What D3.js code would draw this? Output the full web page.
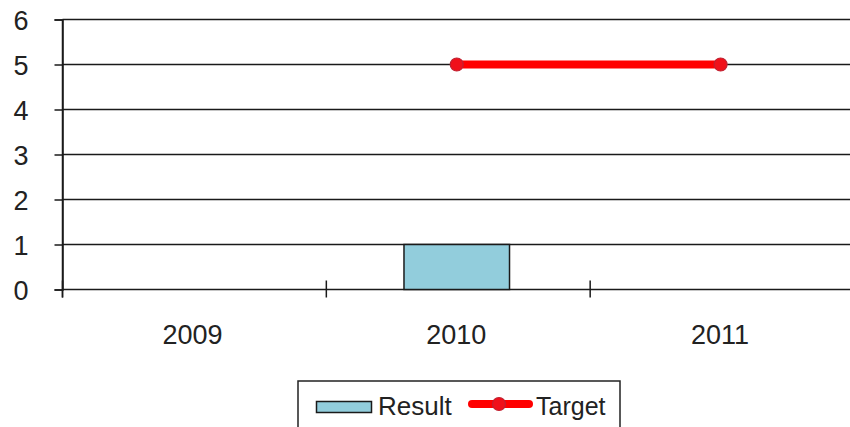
<!DOCTYPE html>
<html>
<head>
<meta charset="utf-8">
<script src="https://cdn.jsdelivr.net/npm/d3@7"></script>
<style>
  html, body { margin: 0; padding: 0; background: #fff; }
  svg { display: block; }
  text { font-family: "Liberation Sans", Arial, sans-serif; fill: #222; }
</style>
</head>
<body>
<svg id="chart" width="850" height="427"></svg>
<script>
const categories = ["2009", "2010", "2011"];
const resultValues = [null, 1, null];
const targetValues = [null, 5, 5];
const yTicks = [0, 1, 2, 3, 4, 5, 6];
const seriesNames = ["Result", "Target"];

const svg = d3.select("#chart");
const mLeft = 62.5, mRight = 854, mTop = 19.5, mBottom = 289.5;

const x = d3.scaleBand().domain(categories).range([mLeft, mRight]).padding(0);
const y = d3.scaleLinear().domain([0, 6]).range([mBottom, mTop]);

// gridlines
svg.append("g").selectAll("line").data(yTicks).join("line")
  .attr("x1", mLeft).attr("x2", 850)
  .attr("y1", d => y(d)).attr("y2", d => y(d))
  .attr("stroke", "#1a1a1a").attr("stroke-width", 1.5);

// y axis
const yAxis = svg.append("g").attr("transform", `translate(${mLeft},0)`)
  .call(d3.axisLeft(y).tickValues(yTicks).tickSize(8).tickPadding(26).tickFormat(d3.format("d")));
yAxis.select(".domain").attr("stroke", "#1a1a1a").attr("stroke-width", 1.5);
yAxis.selectAll(".tick line").attr("stroke", "#1a1a1a").attr("stroke-width", 1.5);
yAxis.selectAll(".tick text").attr("font-size", 27).attr("font-family", "Liberation Sans, Arial, sans-serif")
  .attr("fill", "#222").attr("dy", "0.36em");

// x axis ticks at band boundaries
const boundaries = categories.map(c => x(c)).concat([x(categories[categories.length - 1]) + x.bandwidth()]);
svg.append("g").selectAll("line").data(boundaries).join("line")
  .attr("x1", d => d).attr("x2", d => d)
  .attr("y1", mBottom - 9).attr("y2", mBottom + 8)
  .attr("stroke", "#1a1a1a").attr("stroke-width", 1.5);
svg.append("line").attr("x1", mLeft).attr("x2", mLeft).attr("y1", mTop).attr("y2", mBottom + 8)
  .attr("stroke", "#1a1a1a").attr("stroke-width", 1.5);

svg.append("g").selectAll("text").data(categories).join("text")
  .attr("x", d => x(d) + x.bandwidth() / 2 - 2)
  .attr("y", 344)
  .attr("text-anchor", "middle")
  .attr("font-size", 27)
  .text(d => d);

// bars
const barW = x.bandwidth() * 0.4;
svg.append("g").selectAll("rect")
  .data(categories.map((c, i) => ({ c, v: resultValues[i] })).filter(d => d.v != null))
  .join("rect")
  .attr("x", d => x(d.c) + x.bandwidth() / 2 - barW / 2 - 1.5)
  .attr("y", d => y(d.v))
  .attr("width", barW)
  .attr("height", d => y(0) - y(d.v))
  .attr("fill", "#92CDDC")
  .attr("stroke", "#1a1a1a")
  .attr("stroke-width", 1.5);

// target line
const tData = categories.map((c, i) => ({ c, v: targetValues[i] })).filter(d => d.v != null);
svg.append("path").datum(tData)
  .attr("fill", "none")
  .attr("stroke", "#FF0000")
  .attr("stroke-width", 8)
  .attr("d", d3.line().x(d => x(d.c) + x.bandwidth() / 2 - 1.5).y(d => y(d.v)));
svg.append("g").selectAll("circle").data(tData).join("circle")
  .attr("cx", d => x(d.c) + x.bandwidth() / 2 - 1.5)
  .attr("cy", d => y(d.v))
  .attr("r", 6.5)
  .attr("fill", "#F0101A")
  .attr("stroke", "#C02030")
  .attr("stroke-width", 1.2);

// legend
const lg = svg.append("g");
lg.append("rect").attr("x", 298).attr("y", 381).attr("width", 322).attr("height", 60)
  .attr("fill", "#fff").attr("stroke", "#222").attr("stroke-width", 1.5);
lg.append("rect").attr("x", 316.5).attr("y", 401.5).attr("width", 55).attr("height", 11)
  .attr("fill", "#92CDDC").attr("stroke", "#1a1a1a").attr("stroke-width", 1.5);
lg.append("text").attr("x", 378).attr("y", 415).attr("font-size", 26).text(seriesNames[0]);
lg.append("line").attr("x1", 472).attr("x2", 529).attr("y1", 404).attr("y2", 404)
  .attr("stroke", "#FF0000").attr("stroke-width", 8).attr("stroke-linecap", "round");
lg.append("circle").attr("cx", 499).attr("cy", 404).attr("r", 6.5)
  .attr("fill", "#F0101A").attr("stroke", "#C02030").attr("stroke-width", 1.2);
lg.append("text").attr("x", 536).attr("y", 415).attr("font-size", 25).text(seriesNames[1]);
</script>
</body>
</html>
